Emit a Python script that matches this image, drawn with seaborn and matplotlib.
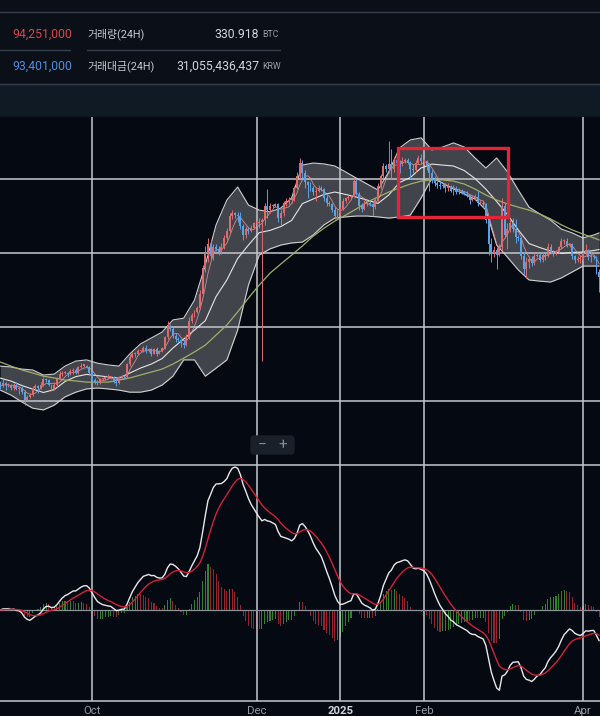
import numpy as np
import pandas as pd
import matplotlib.pyplot as plt
import matplotlib.dates as mdates
import matplotlib.patches as mpatches
from matplotlib.lines import Line2D
import seaborn as sns

# ---- data: Upbit BTC/KRW daily candles, price in million KRW ----
start = pd.Timestamp('2024-08-28')
first_open = 81.0
closes = [
    80.0, 81.0, 80.3, 80.5, 79.5, 80.5, 79.0,
    79.5, 78.0, 75.5, 76.5, 77.0, 79.5, 80.0,
    79.5, 80.5, 82.5, 82.0, 80.5, 79.0, 80.5,
    82.5, 84.0, 84.5, 84.5, 84.0, 85.0, 85.5,
    84.5, 86.5, 87.0, 87.0, 86.5, 84.5, 82.0,
    81.5, 81.0, 82.5, 82.5, 83.0, 83.0, 83.0,
    81.5, 81.0, 83.0, 83.5, 83.0, 87.5, 90.0,
    91.0, 91.0, 92.0, 92.0, 93.0, 92.0, 92.5,
    91.0, 92.5, 91.0, 92.0, 93.0, 96.5, 100.5,
    99.5, 97.0, 96.0, 95.5, 94.5, 94.0, 96.5,
    102.0, 104.0, 105.0, 106.5, 111.0, 120.0, 125.0,
    128.0, 124.0, 127.0, 126.5, 125.5, 127.0, 130.0,
    132.5, 137.5, 138.5, 138.0, 137.5, 134.0, 131.0,
    133.0, 132.5, 133.5, 135.0, 135.0, 135.5, 136.0,
    141.0, 139.5, 141.0, 141.0, 141.5, 137.0, 138.5,
    142.0, 142.5, 143.0, 143.0, 147.0, 151.0, 155.5,
    152.0, 149.0, 148.0, 147.0, 145.5, 146.0, 147.0,
    146.5, 143.5, 142.0, 141.5, 139.5, 137.5, 138.5,
    140.0, 142.5, 143.5, 144.0, 144.0, 149.5, 145.0,
    141.0, 140.0, 141.5, 142.0, 141.5, 140.5, 143.0,
    147.5, 151.0, 154.5, 153.5, 155.0, 153.5, 156.5,
    155.5, 155.0, 156.0, 156.5, 155.5, 153.5, 153.0,
    155.5, 157.0, 156.0, 156.0, 154.5, 152.0, 150.0,
    148.5, 148.0, 147.5, 148.0, 147.0, 147.5, 146.0,
    147.0, 145.5, 146.0, 145.5, 145.0, 144.5, 143.0,
    143.5, 144.0, 142.0, 142.0, 141.5, 136.0, 128.0,
    125.0, 126.0, 124.5, 127.0, 141.0, 131.0, 133.0,
    135.0, 133.0, 130.5, 130.0, 124.0, 119.5, 122.0,
    123.0, 121.5, 124.0, 124.5, 122.5, 124.5, 124.0,
    127.0, 125.5, 125.0, 125.5, 127.0, 129.0, 129.0,
    127.5, 128.0, 124.0, 122.5, 123.0, 123.0, 125.0,
    126.0, 123.5, 124.0, 123.5, 118.5, 117.0,
]
highs = [
    81.8, 82.3, 81.5, 81.0, 80.8, 81.2, 81.3,
    80.2, 80.0, 78.6, 77.2, 77.6, 80.0, 80.8,
    80.4, 81.3, 83.0, 82.8, 82.3, 80.7, 81.6,
    83.0, 85.0, 85.3, 85.0, 84.9, 85.8, 86.0,
    86.0, 87.0, 87.8, 87.4, 87.3, 86.8, 85.2,
    82.8, 82.0, 82.9, 82.8, 83.4, 84.2, 83.6,
    83.4, 82.3, 83.5, 83.9, 83.8, 88.0, 90.8,
    91.6, 91.7, 92.5, 92.4, 93.5, 94.0, 93.0,
    92.8, 93.0, 93.3, 92.4, 93.3, 97.0, 102.0,
    101.0, 100.0, 98.0, 96.5, 95.8, 95.6, 97.5,
    103.5, 104.8, 105.6, 107.0, 112.5, 121.0, 127.5,
    130.0, 129.5, 128.0, 128.0, 127.5, 128.5, 131.0,
    133.5, 138.5, 139.5, 139.0, 138.8, 139.0, 134.8,
    134.0, 133.8, 134.5, 135.6, 136.0, 137.0, 136.8,
    141.8, 146.5, 141.8, 141.6, 142.0, 142.0, 139.5,
    142.5, 143.5, 144.0, 143.8, 147.5, 152.5, 157.0,
    156.5, 153.0, 149.5, 149.0, 147.5, 147.0, 148.0,
    147.8, 147.0, 144.5, 142.5, 142.0, 140.5, 140.0,
    140.5, 143.5, 144.0, 144.5, 144.5, 150.5, 150.0,
    145.5, 142.0, 143.0, 142.5, 142.5, 142.0, 144.0,
    148.5, 151.8, 155.5, 155.0, 163.0, 160.0, 157.5,
    157.0, 156.5, 157.5, 157.0, 157.0, 156.0, 155.0,
    156.5, 158.0, 158.5, 156.8, 156.5, 155.5, 153.0,
    151.0, 149.5, 149.5, 148.5, 148.5, 148.5, 148.0,
    148.0, 147.5, 147.0, 146.5, 146.0, 146.0, 145.0,
    144.5, 145.0, 146.0, 142.8, 142.5, 142.0, 136.5,
    130.0, 127.5, 127.0, 128.0, 143.5, 142.0, 135.0,
    136.5, 137.0, 136.5, 131.0, 130.5, 125.5, 123.5,
    124.0, 124.0, 125.0, 125.0, 125.0, 125.5, 125.0,
    128.5, 128.0, 126.0, 126.0, 127.5, 130.0, 129.8,
    130.0, 128.5, 128.5, 124.5, 124.0, 124.5, 125.8,
    128.0, 126.5, 125.5, 124.5, 124.0, 119.5,
]
lows = [
    79.2, 79.6, 78.8, 79.8, 78.6, 78.9, 78.7,
    77.4, 77.5, 73.8, 75.2, 75.9, 76.6, 78.9,
    77.8, 79.1, 80.0, 81.5, 80.1, 78.4, 78.7,
    79.8, 82.2, 83.5, 84.0, 83.1, 83.7, 84.2,
    84.1, 84.2, 86.0, 86.5, 86.1, 84.0, 81.3,
    80.8, 80.4, 80.8, 82.0, 82.2, 82.5, 82.3,
    81.1, 80.2, 80.8, 82.7, 82.4, 82.8, 86.9,
    89.4, 90.0, 90.7, 91.5, 91.6, 91.3, 91.5,
    90.2, 90.8, 90.1, 90.8, 91.7, 92.6, 96.1,
    98.6, 96.2, 95.0, 95.0, 93.4, 92.8, 93.6,
    96.0, 101.2, 103.4, 104.6, 106.2, 110.5, 118.5,
    122.0, 123.0, 122.5, 125.8, 124.5, 124.8, 126.5,
    129.5, 131.5, 136.5, 136.8, 135.5, 133.0, 129.5,
    130.2, 131.5, 132.0, 133.0, 134.2, 133.5, 88.5,
    134.5, 137.0, 138.5, 140.2, 140.5, 135.5, 134.5,
    137.5, 141.0, 141.5, 142.0, 142.5, 146.5, 150.5,
    150.5, 147.0, 143.5, 146.0, 144.5, 142.5, 145.5,
    146.0, 142.5, 141.0, 140.8, 139.0, 136.5, 137.0,
    138.0, 139.5, 142.0, 143.0, 143.2, 143.8, 144.5,
    139.5, 139.0, 139.5, 141.0, 141.0, 137.5, 140.0,
    142.5, 146.5, 150.5, 152.5, 152.0, 150.0, 152.5,
    154.5, 152.0, 154.5, 155.5, 155.0, 150.0, 152.0,
    152.5, 155.0, 155.0, 155.0, 153.0, 146.0, 148.5,
    147.5, 147.0, 146.5, 147.0, 145.5, 146.0, 145.5,
    144.5, 144.8, 145.0, 145.0, 144.5, 143.8, 141.5,
    142.5, 143.0, 141.0, 141.5, 140.5, 135.0, 124.5,
    122.0, 123.5, 119.5, 124.0, 126.0, 130.0, 126.5,
    132.0, 132.0, 128.5, 129.0, 123.0, 118.0, 116.5,
    120.0, 120.5, 121.0, 123.5, 122.0, 122.0, 122.5,
    123.5, 125.0, 124.0, 124.5, 125.0, 126.5, 128.0,
    127.0, 127.0, 123.0, 121.5, 122.0, 121.5, 122.5,
    124.5, 122.5, 122.0, 123.0, 118.0, 112.0,
]

# Bollinger band edges and 60-day MA, read every 4 days (last point = last day)
band_upper = [
    86.8, 86.5, 85.8, 85.5, 83.8, 84.1, 86.8, 88.5, 88.9, 87.8,
    87.2, 86.8, 90.9, 94.3, 96.3, 98.3, 102.4, 103.0, 109.1, 120.9,
    134.5, 142.9, 147.3, 141.2, 139.5, 138.9, 140.2, 143.6, 154.7, 155.4,
    155.1, 154.4, 152.4, 150.3, 148.3, 146.3, 152.4, 160.5, 163.2, 163.9,
    159.8, 160.8, 162.2, 160.8, 157.1, 153.7, 157.1, 152.4, 146.3, 140.5,
    138.2, 136.1, 133.1, 131.8, 130.1, 131.1, 131.8,
]
band_lower = [
    78.7, 77.0, 74.7, 72.6, 72.0, 73.6, 76.4, 78.0, 79.1, 79.4,
    79.1, 78.7, 78.0, 78.0, 78.7, 80.4, 83.4, 88.9, 88.9, 83.4,
    86.1, 88.9, 99.0, 114.2, 124.3, 126.4, 127.7, 128.4, 128.7, 131.1,
    134.5, 136.8, 137.2, 137.5, 137.5, 137.2, 136.8, 137.2, 137.8, 143.6,
    150.3, 148.6, 146.6, 144.9, 143.2, 139.5, 127.7, 123.6, 119.3, 115.9,
    115.5, 115.2, 116.6, 118.6, 120.6, 120.6, 120.6,
]
ma60 = [
    88.2, 86.8, 85.5, 84.5, 83.4, 82.8, 82.1, 81.8, 81.4, 81.4,
    81.4, 82.1, 82.8, 83.8, 84.8, 85.8, 87.5, 89.5, 91.6, 93.9,
    97.3, 100.7, 105.1, 109.8, 114.2, 118.2, 121.3, 124.3, 127.4, 130.7,
    133.4, 135.8, 137.8, 139.9, 142.2, 143.9, 145.6, 147.0, 148.3, 149.3,
    149.7, 149.7, 149.3, 148.3, 146.6, 144.6, 142.9, 141.6, 140.5, 139.5,
    138.2, 136.5, 134.5, 132.8, 131.4, 130.1, 129.4,
]

tick_dates = ['2024-10-01', '2024-12-01', '2025-01-01', '2025-02-01', '2025-04-01']
tick_labels = ['Oct', 'Dec', '2025', 'Feb', 'Apr']
price_grid = [75, 100, 125, 150]

box_dates = ['2025-01-22 10:00', '2025-03-04 06:00']
box_prices = [137.2, 160.5]

header_price = ['94,251,000', '93,401,000']
header_name = ['거래량(24H)', '거래대금(24H)']
header_value = ['330.918', '31,055,436,437']
header_unit = ['BTC', 'KRW']

# ---- frames ----
dates = pd.date_range(start, periods=len(closes), freq='D')
df = pd.DataFrame({'close': closes, 'high': highs, 'low': lows}, index=dates)
df['open'] = df['close'].shift(1).fillna(first_open)
df['ma5'] = df['close'].rolling(5, min_periods=1).mean()

band_dates = list(pd.date_range(start, periods=len(band_upper) - 1, freq='4D')) + [dates[-1]]
bands = pd.DataFrame({'upper': band_upper, 'lower': band_lower, 'ma60': ma60}, index=band_dates)
bands['mid'] = (bands['upper'] + bands['lower']) / 2

ema12 = df['close'].ewm(span=12, adjust=False).mean()
ema26 = df['close'].ewm(span=26, adjust=False).mean()
df['macd'] = ema12 - ema26
df['signal'] = df['macd'].ewm(span=9, adjust=False).mean()
df['hist'] = df['macd'] - df['signal']

# ---- style ----
head_bg = '#0a0f18'
band_bg = '#101a25'
chart_bg = '#050912'
grid_c = '#c3c7cd'
up_c = '#e06a6c'
down_c = '#5aa2e6'

sns.set_theme(style='dark', rc={'axes.facecolor': chart_bg, 'figure.facecolor': head_bg})
plt.rcParams['font.family'] = ['Roboto', 'Noto Sans CJK KR', 'DejaVu Sans']

W, H = 600, 716
fig = plt.figure(figsize=(W / 100, H / 100), dpi=100)


def fx(x):
    return x / W


def fy(y):
    return 1 - y / H


# header
fig.add_artist(mpatches.Rectangle((0, fy(117)), 1, 32 / H, transform=fig.transFigure,
                                  color=band_bg, zorder=0))
fig.add_artist(mpatches.Rectangle((0, 0), 1, fy(117), transform=fig.transFigure,
                                  color=chart_bg, zorder=0))
for y0, x0, x1 in [(12, 0, 600), (50, 0, 70), (50, 87, 280), (84, 0, 600)]:
    fig.add_artist(Line2D([fx(x0), fx(x1)], [fy(y0), fy(y0)], transform=fig.transFigure,
                          color='#36404c', lw=1.0))
for i, yy in enumerate([34, 66]):
    fig.text(fx(12), fy(yy), header_price[i], color=['#d8474c', '#4d8fe0'][i],
             fontsize=8.8, va='center', ha='left')
    fig.text(fx(87), fy(yy), header_name[i], color='#c6cad0', fontsize=7.8,
             va='center', ha='left')
    fig.text(fx(259), fy(yy), header_value[i], color='#d2d6dc', fontsize=8.8,
             va='center', ha='right')
    fig.text(fx(262), fy(yy + 0.5), header_unit[i], color='#9aa0a8', fontsize=6.3,
             va='center', ha='left')

# ---- price panel ----
ax = fig.add_axes([0, fy(465), 1, (465 - 117) / H])
ax_m = fig.add_axes([0, fy(701), 1, (701 - 465) / H], sharex=ax)

x_left = start - pd.Timedelta(hours=2)
x_right = start + pd.Timedelta(days=222.3)
ax.set_xlim(x_left, x_right)
ax.set_ylim(53.4, 170.95)

ax.fill_between(bands.index, bands['lower'], bands['upper'], color='#56595e',
                alpha=0.75, lw=0, zorder=1)
for t in tick_dates:
    ax.axvline(pd.Timestamp(t), color=grid_c, lw=1.1, zorder=2)
    ax_m.axvline(pd.Timestamp(t), color=grid_c, lw=1.1, zorder=0.5)
for p in price_grid:
    ax.axhline(p, color=grid_c, lw=1.1, zorder=2)

sns.lineplot(x=bands.index, y=bands['upper'], ax=ax, color='#d0d0d0', lw=0.8, zorder=2.5)
sns.lineplot(x=bands.index, y=bands['lower'], ax=ax, color='#d0d0d0', lw=0.8, zorder=2.5)
sns.lineplot(x=bands.index, y=bands['mid'], ax=ax, color='#e4e4e4', lw=0.8, zorder=2.5)
sns.lineplot(x=bands.index, y=bands['ma60'], ax=ax, color='#a3ad6a', lw=0.9, zorder=2.5)
sns.lineplot(x=df.index, y=df['ma5'], ax=ax, color='#e59a9c', lw=0.6, alpha=0.85, zorder=2.6)

# candles
is_up = df['close'] >= df['open']
colors = np.where(is_up, up_c, down_c)
ax.vlines(df.index, df['low'], df['high'], colors=colors, lw=0.7, zorder=3)
body_lo = np.minimum(df['open'], df['close'])
body_h = np.maximum((df['close'] - df['open']).abs(), 0.35)
ax.bar(df.index, body_h, bottom=body_lo, width=0.72, color=colors, lw=0, zorder=3.1)

# highlight box
bx0, bx1 = mdates.date2num(pd.Timestamp(box_dates[0])), mdates.date2num(pd.Timestamp(box_dates[1]))
ax.add_patch(mpatches.Rectangle((bx0, box_prices[0]), bx1 - bx0, box_prices[1] - box_prices[0],
                                fill=False, edgecolor='#e2263a', lw=2.4, zorder=5))

ax.set_xlabel('')
ax.set_ylabel('')
ax.tick_params(left=False, bottom=False, labelleft=False, labelbottom=False)
for s in ax.spines.values():
    s.set_visible(False)

# zoom buttons
fig.add_artist(mpatches.FancyBboxPatch((fx(251), fy(454)), fx(43), 18 / H,
                                       boxstyle='round,pad=0,rounding_size=0.005',
                                       transform=fig.transFigure, color='#1a2029', zorder=6))
fig.text(fx(262), fy(445), '−', color='#878d96', fontsize=11, ha='center', va='center', zorder=7)
fig.text(fx(283), fy(445), '+', color='#878d96', fontsize=11, ha='center', va='center', zorder=7)

# ---- MACD panel ----
mmax = df['macd'].max()
top = mmax * (610 - 465) / (610 - 467)
bot = -mmax * (701 - 610) / (610 - 467)
ax_m.set_ylim(bot, top)
ax_m.axhline(0, color='#8b9199', lw=0.9, zorder=1)

ax_h = ax_m.twinx()
ax_h.set_ylim(bot / 1.2, top / 1.2)
hist_col = np.where(df['hist'].diff().fillna(0) >= 0, '#35902f', '#a82535')
ax_h.bar(df.index, df['hist'], width=0.4, color=hist_col, lw=0, alpha=0.9, zorder=1)
ax_h.axis('off')

ax_m.set_zorder(ax_h.get_zorder() + 1)
ax_m.patch.set_visible(False)
sns.lineplot(x=df.index, y=df['macd'], ax=ax_m, color='#e8e8e8', lw=1.0, zorder=3)
sns.lineplot(x=df.index, y=df['signal'], ax=ax_m, color='#d3203a', lw=1.0, zorder=3)

ax_m.set_xlabel('')
ax_m.set_ylabel('')
ax_m.set_xticks([pd.Timestamp(t) for t in tick_dates])
ax_m.set_xticklabels(tick_labels)
ax_m.tick_params(axis='x', length=0, pad=3.5, labelsize=8.2, labelcolor='#959ba3')
ax_m.tick_params(axis='y', left=False, labelleft=False)
for lab in ax_m.get_xticklabels():
    if lab.get_text() == '2025':
        lab.set_fontweight('bold')
        lab.set_color('#cfd3d9')
for name, s in ax_m.spines.items():
    s.set_visible(name in ('top', 'bottom'))
    s.set_color(grid_c)
    s.set_linewidth(1.1)
ax.set_xlim(x_left, x_right)

fig.savefig('out.png', dpi=100, facecolor=head_bg)
